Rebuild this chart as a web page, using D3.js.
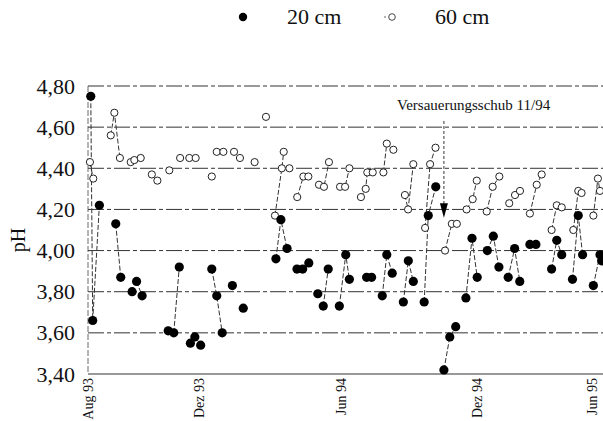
<!DOCTYPE html>
<html>
<head>
<meta charset="utf-8">
<script src="https://cdn.jsdelivr.net/npm/d3@7"></script>
<style>
  body { margin: 0; background: #fff; }
  svg { display: block; }
  text { font-family: "Liberation Serif", "DejaVu Serif", serif; fill: #111; }
</style>
</head>
<body>
<svg id="chart" width="603" height="421"></svg>
<script>
// Zeitachse: Monate seit August 1993
const achsenMonate = [0, 4, 10, 16, 22];
const achsenLabels = ["Aug 93", "Dez 93", "Jun 94", "Dez 94", "Jun 95"];
const phTicks = [3.4, 3.6, 3.8, 4.0, 4.2, 4.4, 4.6, 4.8];

// 20 cm Tiefe: Monat, pH, Messkampagne (gleiche Kampagne = verbunden)
const monate20 = [0.10, 0.17, 0.41, 1.00, 1.18, 1.59, 1.75, 1.95, 2.89, 3.09,
  3.29, 3.69, 3.85, 4.07, 4.54, 4.75, 4.98, 5.41, 5.87, 7.25,
  7.46, 7.72, 8.14, 8.38, 8.64, 9.02, 9.25, 9.46, 9.93, 10.21,
  10.37, 11.13, 11.35, 11.82, 12.02, 12.26, 12.75, 12.97, 13.19, 13.67,
  13.85, 14.18, 14.54, 14.80, 15.06, 15.51, 15.78, 16.01, 16.50, 16.79,
  17.06, 17.51, 17.82, 18.07, 18.56, 18.85, 19.61, 19.86, 20.10, 20.62,
  20.90, 21.11, 21.63, 21.95, 22.03];
const ph20 = [4.75, 3.66, 4.22, 4.13, 3.87, 3.80, 3.85, 3.78, 3.61, 3.60,
  3.92, 3.55, 3.58, 3.54, 3.91, 3.78, 3.60, 3.83, 3.72, 3.96,
  4.15, 4.01, 3.91, 3.91, 3.94, 3.79, 3.73, 3.91, 3.73, 3.98,
  3.86, 3.87, 3.87, 3.78, 3.98, 3.89, 3.75, 3.95, 3.85, 3.75,
  4.17, 4.31, 3.42, 3.58, 3.63, 3.77, 4.06, 3.87, 4.00, 4.07,
  3.92, 3.87, 4.01, 3.85, 4.03, 4.03, 3.91, 4.05, 3.98, 3.86,
  4.17, 3.98, 3.83, 3.98, 3.95];
const kampagne20 = [1, 1, 1, 2, 2, 3, 4, 4, 5, 6,
  6, 7, 8, 9, 10, 10, 10, 11, 12, 13,
  13, 13, 14, 15, 16, 17, 18, 18, 19, 19,
  19, 20, 21, 22, 22, 22, 23, 23, 23, 24,
  24, 24, 25, 25, 25, 26, 26, 26, 27, 27,
  27, 28, 28, 28, 29, 30, 31, 31, 31, 32,
  32, 32, 33, 33, 33];

// 60 cm Tiefe
const monate60 = [0.07, 0.19, 0.82, 0.95, 1.15, 1.54, 1.67, 1.90, 2.30, 2.50,
  2.93, 3.32, 3.65, 3.88, 4.54, 4.75, 5.03, 5.48, 5.73, 6.35,
  6.83, 7.21, 7.50, 7.58, 7.82, 8.15, 8.41, 8.62, 9.07, 9.28,
  9.49, 9.96, 10.18, 10.37, 10.88, 11.09, 11.16, 11.40, 11.87, 12.02,
  12.31, 12.82, 12.96, 13.19, 13.71, 13.93, 14.17, 14.59, 14.89, 15.11,
  15.54, 15.81, 15.99, 16.47, 16.76, 17.08, 17.56, 17.84, 18.08, 18.56,
  18.89, 19.13, 19.61, 19.86, 20.10, 20.66, 20.90, 21.06, 21.63, 21.85,
  21.95];
const ph60 = [4.43, 4.35, 4.56, 4.67, 4.45, 4.43, 4.44, 4.45, 4.37, 4.34,
  4.39, 4.45, 4.45, 4.45, 4.36, 4.48, 4.48, 4.48, 4.45, 4.43,
  4.65, 4.17, 4.40, 4.48, 4.40, 4.26, 4.36, 4.36, 4.32, 4.31,
  4.43, 4.31, 4.31, 4.40, 4.26, 4.30, 4.38, 4.38, 4.38, 4.52,
  4.49, 4.27, 4.20, 4.42, 4.11, 4.42, 4.50, 4.00, 4.13, 4.13,
  4.20, 4.25, 4.34, 4.19, 4.31, 4.36, 4.23, 4.27, 4.29, 4.18,
  4.32, 4.37, 4.10, 4.22, 4.21, 4.10, 4.29, 4.28, 4.17, 4.35,
  4.29];
const kampagne60 = [1, 1, 2, 2, 2, 3, 4, 5, 6, 7,
  8, 9, 10, 11, 12, 13, 14, 15, 16, 17,
  18, 19, 19, 19, 20, 21, 21, 22, 23, 23,
  23, 24, 24, 24, 25, 25, 25, 26, 27, 27,
  27, 28, 28, 28, 29, 29, 29, 30, 30, 30,
  31, 31, 31, 32, 32, 32, 33, 33, 33, 34,
  34, 34, 35, 35, 35, 36, 36, 36, 37, 37,
  37];

// Ereignis
const ereignisText = "Versauerungsschub 11/94";
const ereignisMonat = 14.54;

const svg = d3.select("#chart");
const W = 603;

const x = d3.scaleLinear().domain(achsenMonate).range([88, 199, 341, 477, 601]);
const y = d3.scaleLinear().domain([3.4, 4.8]).range([374, 86]);
const de = d3.formatLocale({ decimal: ",", thousands: ".", grouping: [3], currency: ["", " €"] });
const fmt = de.format(".2f");

// Gitterlinien
svg.append("g")
  .selectAll("line")
  .data(phTicks)
  .join("line")
  .attr("x1", 88).attr("x2", W)
  .attr("y1", d => y(d)).attr("y2", d => y(d))
  .attr("stroke", "#333")
  .attr("stroke-width", 1)
  .attr("stroke-dasharray", d => d === 3.4 ? null : "16,3,4,3");

// linke Achse
svg.append("line")
  .attr("x1", 88).attr("x2", 88)
  .attr("y1", y(4.8)).attr("y2", y(3.4))
  .attr("stroke", "#444").attr("stroke-width", 0.8)
  .attr("stroke-dasharray", "6,2");

// y-Achse
const yAxis = svg.append("g")
  .attr("transform", "translate(88,0)")
  .call(d3.axisLeft(y).tickValues(phTicks).tickSize(0).tickPadding(13).tickFormat(fmt));
yAxis.select(".domain").remove();
yAxis.selectAll("text")
  .style("font-family", '"Liberation Serif", serif')
  .style("font-size", "22px")
  .attr("fill", "#111");

svg.append("text")
  .attr("transform", `translate(25,${(y(4.0) + y(4.2)) / 2 + 10}) rotate(-90)`)
  .attr("text-anchor", "middle")
  .style("font-size", "20px")
  .text("pH");

// x-Achse (letzte Beschriftung leicht nach innen gerückt)
const xAxis = svg.append("g")
  .attr("transform", `translate(0,${y(3.4)})`)
  .call(d3.axisBottom(x).tickValues(achsenMonate).tickSize(0)
    .tickFormat((d, i) => achsenLabels[i]));
xAxis.select(".domain").remove();
xAxis.selectAll("text")
  .attr("transform", d => `translate(${Math.min(0, W - 11 - x(d))},0) rotate(-90)`)
  .attr("x", -4).attr("y", 0).attr("dy", "0.35em")
  .style("text-anchor", "end")
  .style("font-family", '"Liberation Serif", serif')
  .style("font-size", "14px")
  .attr("fill", "#111");

// Messreihen aufbauen
const reihe20 = monate20.map((m, i) => ({ m, v: ph20[i], k: kampagne20[i] }));
const reihe60 = monate60.map((m, i) => ({ m, v: ph60[i], k: kampagne60[i] }));

const linie = d3.line().x(d => x(d.m)).y(d => y(d.v));

function verbindungen(reihe) {
  svg.append("g")
    .selectAll("path")
    .data(Array.from(d3.group(reihe, d => d.k).values()).filter(g => g.length > 1))
    .join("path")
    .attr("d", linie)
    .attr("fill", "none")
    .attr("stroke", "#333")
    .attr("stroke-width", 1)
    .attr("stroke-dasharray", "5,2");
}
verbindungen(reihe60);
verbindungen(reihe20);

svg.append("g")
  .selectAll("circle")
  .data(reihe60)
  .join("circle")
  .attr("cx", d => x(d.m)).attr("cy", d => y(d.v))
  .attr("r", 3.6)
  .attr("fill", "#fff")
  .attr("stroke", "#222")
  .attr("stroke-width", 1);

svg.append("g")
  .selectAll("circle")
  .data(reihe20)
  .join("circle")
  .attr("cx", d => x(d.m)).attr("cy", d => y(d.v))
  .attr("r", 4.6)
  .attr("fill", "#000");

// Markierung Versauerungsschub
const ex = x(ereignisMonat);
svg.append("line")
  .attr("x1", ex).attr("x2", ex)
  .attr("y1", y(4.63)).attr("y2", y(4.22))
  .attr("stroke", "#333").attr("stroke-width", 1)
  .attr("stroke-dasharray", "3,2");
svg.append("path")
  .attr("d", `M${ex - 4},${y(4.23)} L${ex + 4},${y(4.23)} L${ex},${y(4.16)} Z`)
  .attr("fill", "#000");
svg.append("text")
  .attr("x", 397).attr("y", 110)
  .style("font-size", "15px")
  .text(ereignisText);

// Legende
const legende = svg.append("g");
legende.append("circle").attr("cx", 243).attr("cy", 17).attr("r", 4.2).attr("fill", "#000");
legende.append("text").attr("x", 287).attr("y", 24).style("font-size", "22px").text("20 cm");
legende.append("circle").attr("cx", 385).attr("cy", 17).attr("r", 0.8).attr("fill", "#555");
legende.append("circle").attr("cx", 392).attr("cy", 17).attr("r", 3.3)
  .attr("fill", "#fff").attr("stroke", "#333").attr("stroke-width", 0.9);
legende.append("text").attr("x", 435).attr("y", 24).style("font-size", "22px").text("60 cm");
</script>
</body>
</html>
